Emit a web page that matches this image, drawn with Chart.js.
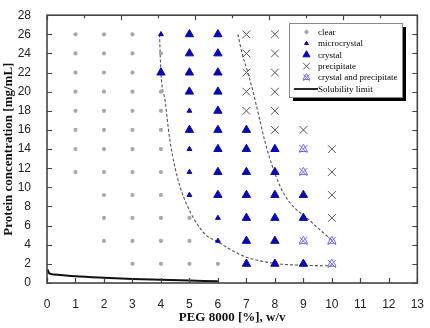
<!DOCTYPE html>
<html lang="en">
<head>
<meta charset="utf-8">
<title>PEG 8000 phase diagram</title>
<script src="https://cdn.jsdelivr.net/npm/chart.js@4.4.1/dist/chart.umd.min.js"></script>
<style>body {margin: 0; background: #fff;}</style>
</head>
<body>
<canvas id="myChart" width="430" height="328"></canvas>
<script>
const clearPts = [
	[1,11.6],[1,14],[1,16],[1,18],[1,20],[1,22],[1,24],[1,26],
	[2,4.4],[2,6.8],[2,9.2],[2,11.6],[2,14],[2,16],[2,18],[2,20],[2,22],[2,24],[2,26],
	[3,2],[3,4.4],[3,6.8],[3,9.2],[3,11.6],[3,14],[3,16],[3,18],[3,20],[3,22],[3,24],[3,26],
	[4,2],[4,4.4],[4,6.8],[4,9.2],[4,11.6],[4,14],[4,16],[4,18],[4,20],[4,24],
	[5,2],[5,4.4],[5,6.8],
	[6,2]
];
const microPts = [[4,26],[5,18],[5,14],[5,11.6],[5,9.2],[6,6.8],[6,4.4]];
const crystalPts = [
	[4,22],[5,26],[5,24],[5,22],[5,20],[5,16],
	[6,26],[6,24],[6,22],[6,20],[6,18],[6,16],[6,14],[6,11.6],[6,9.2],
	[7,16],[7,14],[7,11.6],[7,9.2],[7,6.8],[7,4.4],[7,2],
	[8,14],[8,11.6],[8,9.2],[8,6.8],[8,4.4],[8,2],
	[9,9.2],[9,6.8],[9,2]
];
const precipPts = [
	[7,26],[7,24],[7,22],[7,20],[7,18],
	[8,26],[8,24],[8,22],[8,20],[8,18],[8,16],
	[9,16],[10,14],[10,11.6],[10,9.2],[10,6.8]
];
const mixedPts = [[9,14],[9,11.6],[9,4.4],[10,4.4],[10,2]];
// dashed boundaries and solubility curve
const lowerBound = [[3.95,26],[4.0,22],[4.15,19],[4.3,15.2],[4.5,12],[4.7,9.8],[5.05,7.3],[5.55,5.1],[6,4.3],[6.5,3.4],[7,2.7],[8,2.05],[9,1.85],[10,1.8]];
const upperBound = [[6.7,26],[6.85,24],[7.05,22],[7.25,19.8],[7.45,17.3],[7.65,14.8],[7.9,12.3],[8.2,10],[8.5,8.5],[8.9,7.3],[9.2,6.6],[9.6,5.5],[10,4.5]];
const solubility = [[0.02,1.4],[0.08,1.0],[0.25,0.88],[1,0.7],[2,0.55],[3,0.43],[4,0.33],[5,0.25],[6,0.17]];

const xTicks = [0,1,2,3,4,5,6,7,8,9,10,11,12,13];
const yTicks = [0,2,4,6,8,10,12,14,16,18,20,22,24,26,28];
const topTicks = [0,1.3,2.6,3.9,5.2,6.5,7.8,9.1,10.4,11.7,13];

const legendItems = [
	{label: 'clear', style: 'circle', r: 2, fill: '#a8a8a8', stroke: '#a8a8a8'},
	{label: 'microcrystal', style: 'triangle', r: 2.6, fill: '#0a0aa6', stroke: '#0a0aa6'},
	{label: 'crystal', style: 'triangle', r: 4.8, fill: '#0a0aa6', stroke: '#0a0aa6'},
	{label: 'precipitate', style: 'crossRot', r: 5.5, fill: '#555', stroke: '#555'},
	{label: 'crystal and precipitate', style: 'mixed', r: 5.5, fill: '#6f6fe3', stroke: '#6f6fe3'},
	{label: 'Solubility limit', style: 'line'}
];

function pts(a) { return a.map(p => ({x: p[0], y: p[1]})); }

// inward ticks + frame, Origin style
const frame = {
	id: 'frame',
	afterDraw(chart) {
		const c = chart.ctx, a = chart.chartArea;
		const xs = chart.scales.x, ys = chart.scales.y;
		c.save();
		c.strokeStyle = '#444';
		c.lineWidth = 1.6;
		c.strokeRect(a.left, a.top, a.right - a.left, a.bottom - a.top);
		c.lineWidth = 1.2;
		c.beginPath();
		xTicks.forEach(v => {
			const px = Math.round(xs.getPixelForValue(v)) + 0.5;
			c.moveTo(px, a.bottom); c.lineTo(px, a.bottom - 5);
		});
		topTicks.forEach((v, i) => {
			const px = Math.round(xs.getPixelForValue(v)) + 0.5;
			c.moveTo(px, a.top); c.lineTo(px, a.top + (i % 2 ? 3 : 5));
		});
		yTicks.forEach(v => {
			const py = Math.round(ys.getPixelForValue(v)) + 0.5;
			c.moveTo(a.left, py); c.lineTo(a.left + 5, py);
			c.moveTo(a.right, py); c.lineTo(a.right - 5, py);
		});
		c.stroke();

		// legend box
		const L = 289, T = 23, W = 113, H = 74;
		c.fillStyle = '#000';
		c.fillRect(L + 4, T + 4, W, H);
		c.fillStyle = '#fff';
		c.fillRect(L, T, W, H);
		c.strokeStyle = '#888';
		c.lineWidth = 1;
		c.strokeRect(L + 0.5, T + 0.5, W, H);
		c.font = '9px "Liberation Serif", serif';
		c.textBaseline = 'middle';
		c.textAlign = 'left';
		legendItems.forEach((it, i) => {
			const y = T + 9 + i * 11.4, mx = 306.5;
			c.fillStyle = it.fill || '#000';
			c.strokeStyle = it.stroke || '#000';
			c.lineWidth = 1;
			if (it.style === 'line') {
				c.lineWidth = 1.8;
				c.strokeStyle = '#111';
				c.beginPath(); c.moveTo(294, y); c.lineTo(318, y); c.stroke();
			} else if (it.style === 'mixed') {
				Chart.helpers.drawPoint(c, {pointStyle: 'crossRot', radius: 4.5, rotation: 0, borderWidth: 1}, mx, y);
				c.fillStyle = 'rgba(0,0,0,0)';
				Chart.helpers.drawPoint(c, {pointStyle: 'triangle', radius: 4, rotation: 0, borderWidth: 1}, mx, y);
			} else {
				Chart.helpers.drawPoint(c, {pointStyle: it.style, radius: it.r * 0.85, rotation: 0, borderWidth: 1}, mx, y);
			}
			c.fillStyle = '#000';
			c.fillText(it.label, 318, y + 0.5);
		});
		c.restore();
	}
};

const ctx = document.getElementById('myChart').getContext('2d');
const myChart = new Chart(ctx, {
	type: 'scatter',
	data: {
		datasets: [
			{label: 'clear', data: pts(clearPts), pointStyle: 'circle', pointRadius: 2.1, backgroundColor: '#a8a8a8', borderColor: '#a8a8a8', borderWidth: 0},
			{label: 'microcrystal', data: pts(microPts), pointStyle: 'triangle', pointRadius: 2.8, backgroundColor: '#0a0aa6', borderColor: '#0a0aa6', borderWidth: 1},
			{label: 'crystal', data: pts(crystalPts), pointStyle: 'triangle', pointRadius: 4.8, backgroundColor: '#0a0aa6', borderColor: '#0a0aa6', borderWidth: 1},
			{label: 'precipitate', data: pts(precipPts), pointStyle: 'crossRot', pointRadius: 5.5, borderColor: '#555', borderWidth: 1},
			{label: 'crystal and precipitate', data: pts(mixedPts), pointStyle: 'crossRot', pointRadius: 5.8, borderColor: '#6f6fe3', borderWidth: 1},
			{label: 'mixed-tri', data: pts(mixedPts), pointStyle: 'triangle', pointRadius: 4.8, backgroundColor: 'rgba(0,0,0,0)', borderColor: '#6f6fe3', borderWidth: 1},
			{label: 'lower', data: pts(lowerBound), showLine: true, pointRadius: 0, borderColor: '#555', borderWidth: 1.1, borderDash: [3, 2], cubicInterpolationMode: 'monotone'},
			{label: 'upper', data: pts(upperBound), showLine: true, pointRadius: 0, borderColor: '#555', borderWidth: 1.1, borderDash: [3, 2], cubicInterpolationMode: 'monotone'},
			{label: 'Solubility limit', data: pts(solubility), showLine: true, pointRadius: 0, borderColor: '#111', borderWidth: 2, cubicInterpolationMode: 'monotone'}
		]
	},
	options: {
		responsive: false,
		animation: false,
		devicePixelRatio: 1,
		layout: {padding: {top: 9, right: 10, left: 0, bottom: 0}},
		plugins: {legend: {display: false}, tooltip: {enabled: false}},
		scales: {
			x: {
				type: 'linear', min: 0, max: 13,
				afterFit: s => { s.height = 45; },
				afterBuildTicks: s => { s.ticks = xTicks.map(v => ({value: v})); },
				grid: {display: false},
				border: {display: false},
				ticks: {color: '#222', font: {family: '"Liberation Sans", Arial', size: 12}, padding: 6, maxRotation: 0},
				title: {display: true, text: 'PEG 8000 [%], w/v', color: '#111', font: {family: '"Liberation Serif", serif', size: 13, weight: 'bold'}, padding: {top: 2, bottom: 3}}
			},
			y: {
				type: 'linear', min: 0, max: 28,
				afterFit: s => { s.width = 47; },
				afterBuildTicks: s => { s.ticks = yTicks.map(v => ({value: v})); },
				grid: {display: false},
				border: {display: false},
				ticks: {color: '#222', font: {family: '"Liberation Sans", Arial', size: 12}, padding: 8},
				title: {display: true, text: 'Protein concentration [mg/mL]', color: '#111', font: {family: '"Liberation Serif", serif', size: 13, weight: 'bold'}, padding: {top: 1, bottom: 2}}
			}
		}
	},
	plugins: [frame]
});
</script>
</body>
</html>
